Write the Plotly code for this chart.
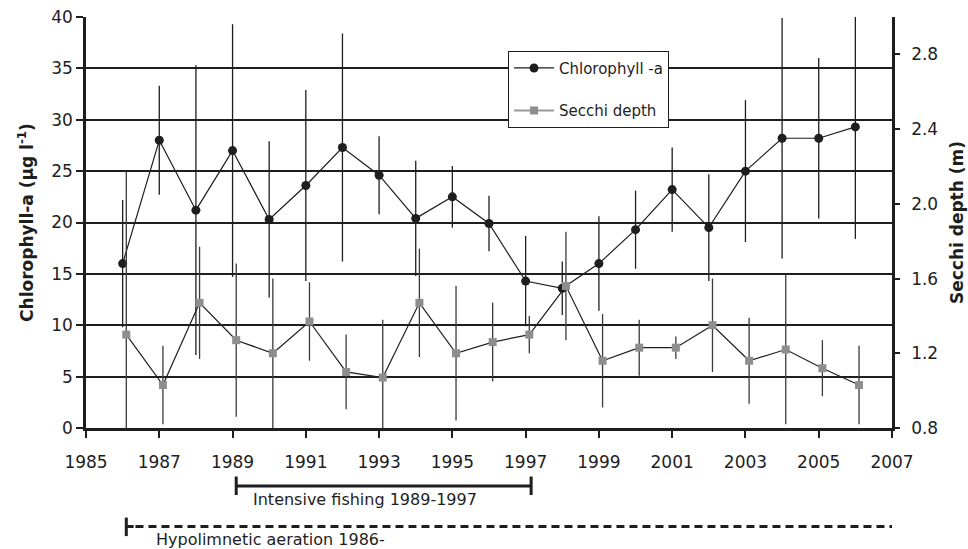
import plotly.graph_objects as go

# Annual means, 1986-2006
years = list(range(1986, 2007))
chlorophyll = [16.0, 28.0, 21.2, 27.0, 20.3, 23.6, 27.3, 24.6, 20.4, 22.5, 19.9,
               14.3, 13.6, 16.0, 19.3, 23.2, 19.5, 25.0, 28.2, 28.2, 29.3]
chlorophyll_err = [6.2, 5.3, 14.1, 12.3, 7.6, 9.3, 11.1, 3.8, 5.6, 3.0, 2.7,
                   4.4, 2.6, 4.6, 3.8, 4.1, 5.2, 6.9, 11.7, 7.8, 10.9]
secchi = [1.30, 1.03, 1.47, 1.27, 1.20, 1.37, 1.10, 1.07, 1.47, 1.20, 1.26,
          1.30, 1.56, 1.16, 1.23, 1.23, 1.35, 1.16, 1.22, 1.12, 1.03]
secchi_err = [0.87, 0.21, 0.30, 0.41, 0.40, 0.21, 0.20, 0.31, 0.29, 0.36, 0.21,
              0.10, 0.29, 0.25, 0.15, 0.06, 0.25, 0.23, 0.40, 0.15, 0.21]

# Management periods drawn under the axis
fishing_period = (1989, 1997)
aeration_start = 1986
axis_end = 2007

FONT = "DejaVu Sans"
INK = "#1e1e1e"
SECCHI_SHIFT = 0.1  # Secchi series sits slightly right of each year

fig = go.Figure()

fig.add_trace(go.Scatter(
    x=years, y=chlorophyll, name="Chlorophyll -a", legendgroup="chl",
    mode="lines+markers",
    line=dict(color=INK, width=1.2),
    marker=dict(symbol="circle", size=9, color=INK),
    error_y=dict(type="data", array=chlorophyll_err, visible=True,
                 color=INK, thickness=1.3, width=0),
))

secchi_x = [y + SECCHI_SHIFT for y in years]
fig.add_trace(go.Scatter(
    x=secchi_x, y=secchi, name="Secchi depth", yaxis="y2", showlegend=False,
    mode="lines+markers",
    line=dict(color=INK, width=1.2),
    marker=dict(symbol="square", size=8, color="#8e8e8e"),
    error_y=dict(type="data", array=secchi_err, visible=True,
                 color="#3a3a3a", thickness=1.3, width=0),
))
# legend entry for the Secchi series (grey key line)
fig.add_trace(go.Scatter(
    x=[None], y=[None], name="Secchi depth", yaxis="y2", legendgroup="secchi",
    mode="lines+markers",
    line=dict(color="#9a9a9a", width=2),
    marker=dict(symbol="square", size=8, color="#8e8e8e"),
))

shapes = []
# Intensive fishing bar
f0, f1 = fishing_period[0] + SECCHI_SHIFT, fishing_period[1] + 0.15
shapes.append(dict(type="line", xref="x", yref="paper", x0=f0, x1=f1,
                   y0=-0.141, y1=-0.141, line=dict(color=INK, width=3)))
for xc in (f0, f1):
    shapes.append(dict(type="line", xref="x", yref="paper", x0=xc, x1=xc,
                       y0=-0.118, y1=-0.163, line=dict(color=INK, width=3)))
# Hypolimnetic aeration (ongoing)
a0 = aeration_start + SECCHI_SHIFT
shapes.append(dict(type="line", xref="x", yref="paper", x0=a0 + 0.25, x1=axis_end,
                   y0=-0.2397, y1=-0.2397,
                   line=dict(color=INK, width=3, dash="8px,5px")))
shapes.append(dict(type="line", xref="x", yref="paper", x0=a0, x1=a0,
                   y0=-0.218, y1=-0.263, line=dict(color=INK, width=3)))
shapes.append(dict(type="line", xref="x", yref="paper", x0=a0, x1=a0 + 0.2,
                   y0=-0.2397, y1=-0.2397, line=dict(color=INK, width=3)))

annotations = [
    dict(text="Intensive fishing 1989-1997", xref="x", yref="paper",
         x=1992.62, y=-0.175, xanchor="center", yanchor="middle", showarrow=False,
         font=dict(family=FONT, size=16, color=INK)),
    dict(text="Hypolimnetic aeration 1986-", xref="x", yref="paper",
         x=1990.04, y=-0.2715, xanchor="center", yanchor="middle", showarrow=False,
         font=dict(family=FONT, size=16, color=INK)),
]

fig.update_layout(
    width=968, height=549,
    margin=dict(l=86, r=76, t=17, b=121, autoexpand=False),
    paper_bgcolor="white", plot_bgcolor="white",
    font=dict(family=FONT, color=INK, size=17),
    showlegend=True,
    legend=dict(x=0.5236, y=0.918, xanchor="left", yanchor="top",
                bgcolor="white", bordercolor=INK, borderwidth=1,
                font=dict(family=FONT, size=15, color=INK),
                tracegroupgap=20, itemwidth=40),
    xaxis=dict(range=[1985, 2007], tick0=1985, dtick=2, showgrid=False,
               zeroline=False, showline=True, linecolor=INK, linewidth=2.5,
               ticks="outside", ticklen=7, tickwidth=2, tickcolor=INK,
               ticklabelstandoff=10,
               tickfont=dict(family=FONT, size=17, color=INK)),
    yaxis=dict(range=[0, 40], dtick=5, showgrid=True, gridcolor=INK, gridwidth=1.6,
               zeroline=False, showline=True, linecolor=INK, linewidth=2.5,
               ticks="outside", ticklen=7, tickwidth=2, tickcolor=INK,
               tickfont=dict(family=FONT, size=17, color=INK),
               title=dict(text="Chlorophyll-a (µg l<sup>-1</sup>)", standoff=14,
                          font=dict(family=FONT, size=17, color=INK, weight="bold"))),
    yaxis2=dict(range=[0.8, 3.0], tick0=0.8, dtick=0.4, tickformat=".1f",
                overlaying="y", side="right", showgrid=False, zeroline=False,
                showline=True, linecolor=INK, linewidth=2.5,
                ticks="outside", ticklen=5, tickwidth=2, tickcolor=INK,
                ticklabelstandoff=8,
                tickfont=dict(family=FONT, size=17, color=INK),
                title=dict(text="Secchi depth (m)", standoff=14,
                           font=dict(family=FONT, size=17, color=INK, weight="bold"))),
    shapes=shapes,
    annotations=annotations,
)

fig.write_html("out.html")
